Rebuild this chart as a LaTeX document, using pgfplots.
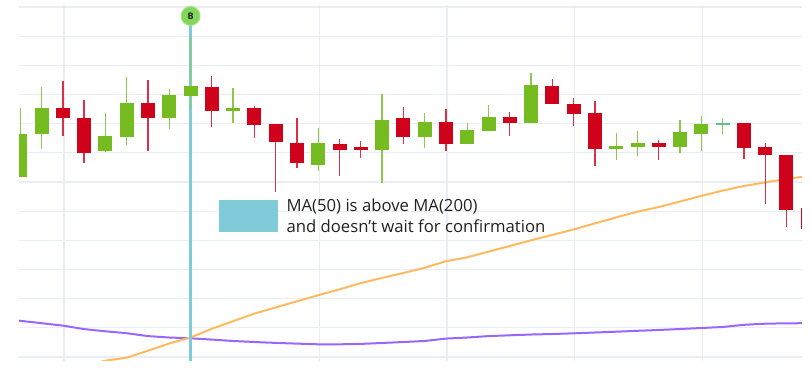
\documentclass[border=0pt]{standalone}
\usepackage{pgfplots}
\pgfplotsset{compat=1.18}
\usepackage{pgfplotstable}
\usepackage{fontspec}
\setmainfont{Open Sans}
\definecolor{gridc}{HTML}{E8EEF4}
\definecolor{cgreen}{HTML}{74BC1F}
\definecolor{cgreenw}{HTML}{8CC84B}
\definecolor{cred}{HTML}{D0021B}
\definecolor{credw}{HTML}{DA3048}
\definecolor{cteal}{HTML}{5DBF9C}
\definecolor{cpurple}{HTML}{9966FF}
\definecolor{corange}{HTML}{FFB95E}
\definecolor{cblue}{HTML}{80CBD9}
\definecolor{cmark}{HTML}{82D65A}
\definecolor{cmarkb}{HTML}{A6E388}
\definecolor{ctext}{HTML}{222222}

\pgfplotstableread{
i o h l c
0 6.17 8.54 6.17 7.64
1 7.64 9.26 7.13 8.54
4 7.06 8.36 7.03 7.58
5 7.54 9.60 7.27 8.71
7 8.19 9.19 7.82 8.98
8 8.95 10.97 8.50 9.29
10 8.43 9.22 8.02 8.54
14 6.58 7.85 6.38 7.34
17 7.10 9.02 5.97 8.12
19 7.54 8.36 7.16 8.06
21 7.30 8.02 7.30 7.78
22 7.75 8.64 7.75 8.23
24 8.02 9.74 8.02 9.32
28 7.13 7.68 6.75 7.23
29 7.20 7.75 6.89 7.34
31 7.20 8.12 6.99 7.71
32 7.64 8.26 7.06 7.99
}\upcandles

\pgfplotstableread{
i o h l c
2 8.54 9.46 7.58 8.19
3 8.19 8.81 6.65 6.99
6 8.71 9.50 7.06 8.19
9 9.26 9.63 7.88 8.43
11 8.54 8.60 7.51 7.95
12 7.99 7.99 5.66 7.37
13 7.34 8.19 6.48 6.65
15 7.30 7.47 6.21 7.10
16 7.20 7.40 6.82 7.10
18 8.19 8.57 7.30 7.54
20 8.06 8.50 7.06 7.30
23 8.23 8.40 7.58 8.02
25 9.29 9.53 8.67 8.67
26 8.67 8.88 7.92 8.33
27 8.36 8.78 6.55 7.13
30 7.34 7.44 6.75 7.20
34 8.02 8.02 6.79 7.16
35 7.20 7.34 5.25 6.92
36 6.92 6.92 4.46 5.04
37 5.11 5.11 4.39 4.39
}\downcandles

\pgfplotstableread{
i o h l c
33 8.02 8.19 7.64 7.95
}\dojicandles

\pgfplotstableread{
i v
-0.5 1.268
0 1.241
1 1.159
2 1.076
3 0.956
4 0.881
5 0.816
6 0.716
7 0.668
8 0.641
9 0.597
10 0.549
11 0.514
12 0.483
13 0.459
14 0.435
15 0.435
16 0.449
17 0.480
18 0.514
19 0.549
20 0.631
21 0.668
22 0.716
23 0.744
24 0.771
25 0.788
26 0.812
27 0.840
28 0.867
29 0.898
30 0.926
31 0.960
32 0.994
33 1.028
34 1.104
35 1.142
36 1.155
37 1.159
}\matwohundred

\pgfplotstableread{
i v
3 -0.309
4 -0.127
5 -0.024
6 0.216
7 0.463
8 0.672
9 0.967
10 1.227
11 1.488
12 1.700
13 1.910
14 2.119
15 2.321
16 2.533
17 2.712
18 2.880
19 3.058
20 3.284
21 3.418
22 3.613
23 3.805
24 4.001
25 4.186
26 4.374
27 4.580
28 4.786
29 4.981
30 5.142
31 5.331
32 5.523
33 5.705
34 5.862
35 5.986
36 6.102
37 6.205
}\mafifty

\pgfplotstableread{
i v
8 -0.3
8 11.69
}\signalline

\pgfplotstableread{
i v
8 11.69
}\signalmark

\begin{document}
\begin{tikzpicture}
\begin{axis}[
  scale only axis,
  width=782.8pt, height=356pt,
  xmin=-0.061, xmax=36.72,
  ymin=-0.137, ymax=12.067,
  axis line style={draw=none},
  tick style={draw=none},
  xtick={2.05,8.05,14.05,20.05,26.05,32.05},
  ytick={0,1,2,3,4,5,6,7,8,9,10,11,12},
  xticklabels={}, yticklabels={},
  grid=major,
  major grid style={draw=gridc, line width=1.2pt},
  clip=true,
]
% moving averages
\addplot[cpurple, line width=2pt, line join=round, mark=none] table[x=i, y=v] {\matwohundred};
\addplot[corange, line width=2pt, line join=round, mark=none] table[x=i, y=v] {\mafifty};
% signal line
\addplot[cblue, line width=3pt, mark=none] table[x=i, y=v] {\signalline};
% wicks
\addplot[draw=none, mark=none, forget plot,
  error bars/.cd, y dir=both, y explicit, error mark=none,
  error bar style={draw=cgreenw, line width=1.3pt}]
  table[x=i, y expr={(\thisrow{h}+\thisrow{l})/2}, y error expr={(\thisrow{h}-\thisrow{l})/2}] {\upcandles};
\addplot[draw=none, mark=none, forget plot,
  error bars/.cd, y dir=both, y explicit, error mark=none,
  error bar style={draw=credw, line width=1.3pt}]
  table[x=i, y expr={(\thisrow{h}+\thisrow{l})/2}, y error expr={(\thisrow{h}-\thisrow{l})/2}] {\downcandles};
\addplot[draw=none, mark=none, forget plot,
  error bars/.cd, y dir=both, y explicit, error mark=none,
  error bar style={draw=cgreenw, line width=1.3pt}]
  table[x=i, y expr={(\thisrow{h}+\thisrow{l})/2}, y error expr={(\thisrow{h}-\thisrow{l})/2}] {\dojicandles};
% bodies
\addplot[draw=none, mark=none, forget plot,
  error bars/.cd, y dir=both, y explicit, error mark=none,
  error bar style={draw=cgreen, line width=14pt}]
  table[x=i, y expr={(\thisrow{o}+\thisrow{c})/2}, y error expr={abs(\thisrow{c}-\thisrow{o})/2}] {\upcandles};
\addplot[draw=none, mark=none, forget plot,
  error bars/.cd, y dir=both, y explicit, error mark=none,
  error bar style={draw=cred, line width=14pt}]
  table[x=i, y expr={(\thisrow{o}+\thisrow{c})/2}, y error expr={abs(\thisrow{c}-\thisrow{o})/2}] {\downcandles};
\addplot[draw=none, mark=none, forget plot,
  error bars/.cd, y dir=both, y explicit, error mark=none,
  error bar style={draw=cteal, line width=14pt}]
  table[x=i, y expr={(\thisrow{o}+\thisrow{c})/2}, y error expr={abs(\thisrow{c}-\thisrow{o})/2}] {\dojicandles};
% signal marker with label
\addplot[only marks, mark=*, mark size=9.5pt,
  mark options={fill=cmark, draw=cmarkb, line width=1pt},
  nodes near coords={B},
  every node near coord/.append style={anchor=center, inner sep=0pt,
    font=\fontsize{9}{9}\selectfont\bfseries, text=ctext}]
  table[x=i, y=v] {\signalmark};
% annotation
\fill[cblue] (axis cs:9.34,5.382) rectangle (axis cs:12.11,4.285);
\node[anchor=base west, inner sep=0pt, text=ctext, font=\fontsize{16.7}{20}\selectfont] at (axis cs:12.5,4.971) {MA(50) is above MA(200)};
\node[anchor=base west, inner sep=0pt, text=ctext, font=\fontsize{16.7}{20}\selectfont] at (axis cs:12.5,4.285) {and doesn't wait for confirmation};
\end{axis}
\useasboundingbox ([xshift=-19pt,yshift=-6pt]current axis.south west) rectangle ([xshift=9.2pt,yshift=5pt]current axis.north east);
\end{tikzpicture}
\end{document}
